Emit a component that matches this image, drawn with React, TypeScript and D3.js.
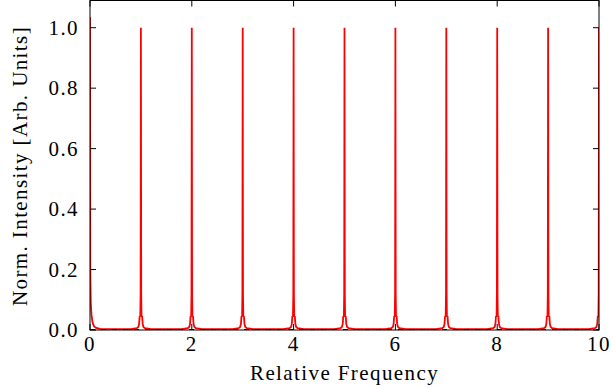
import React from "react";
import * as d3 from "d3";

const peakPositions = [0, 1, 2, 3, 4, 5, 6, 7, 8, 9, 10];
const peakHeights = [1.035, 1.0, 1.0, 1.0, 1.0, 1.0, 1.0, 1.0, 1.0, 1.0, 1.0];
// shape of each peak's foot (offset from peak centre, intensity)
const footOffsets = [-0.2, -0.08, -0.05, -0.035, -0.025, -0.012, -0.006, 0.006, 0.012, 0.025, 0.035, 0.05, 0.08, 0.2];
const footValues = [0.003, 0.006, 0.01, 0.02, 0.044, 0.046, 0.12, 0.12, 0.046, 0.044, 0.02, 0.01, 0.006, 0.003];
// foot of the peak at zero (right side only)
const zeroFootOffsets = [0.006, 0.015, 0.03, 0.05, 0.08, 0.12, 0.2];
const zeroFootValues = [0.2, 0.09, 0.05, 0.025, 0.012, 0.007, 0.004];
const baselineLevel = 0.002;

const xTicks = [0, 2, 4, 6, 8, 10];
const yTicks = [0, 0.2, 0.4, 0.6, 0.8, 1.0];

const W = 613, H = 388;
const M = { left: 90, right: 14, top: 0.5, bottom: 58 };

export default function App() {
  const x = d3.scaleLinear().domain([0, 10]).range([M.left, W - M.right]);
  const y = d3.scaleLinear().domain([0, 1.09]).range([H - M.bottom, M.top]);

  const pts: [number, number][] = [];
  peakPositions.forEach((p, i) => {
    if (p === 0) {
      pts.push([p, peakHeights[i]]);
      zeroFootOffsets.forEach((o, j) => pts.push([p + o, zeroFootValues[j]]));
    } else {
      footOffsets.forEach((o, j) => {
        if (o < 0) pts.push([p + o, footValues[j]]);
      });
      pts.push([p, peakHeights[i]]);
      footOffsets.forEach((o, j) => {
        if (o > 0 && p + o <= 10) pts.push([p + o, footValues[j]]);
      });
    }
  });
  pts.sort((a, b) => a[0] - b[0]);
  const line = d3.line<[number, number]>().x((d) => x(d[0])).y((d) => y(Math.max(d[1], baselineLevel)));

  const x0 = x(0), x1 = x(10), y0 = y(0), y1 = M.top;
  const tl = 6;
  const font = "'Liberation Serif', 'DejaVu Serif', serif";
  const fs = 21;
  const ls = 1.4;

  return (
    <svg width={W} height={H} style={{ position: "absolute", left: 0, top: 0, background: "#fff" }}>
      <defs>
        <clipPath id="plot">
          <rect x={x0} y={y1} width={x1 - x0} height={y0 - y1} />
        </clipPath>
      </defs>
      <g clipPath="url(#plot)">
        <path d={line(pts) || ""} fill="none" stroke="#ff0000" strokeWidth={1.8} />
        <line x1={x0} x2={x1} y1={y0 - 0.5} y2={y0 - 0.5} stroke="#000" strokeWidth={1} strokeDasharray="5,6" />
      </g>
      <rect x={x0} y={y1} width={x1 - x0} height={y0 - y1} fill="none" stroke="#000" strokeWidth={1} />
      {xTicks.map((t) => (
        <g key={"x" + t}>
          <line x1={x(t)} x2={x(t)} y1={y0} y2={y0 - tl} stroke="#000" />
          <line x1={x(t)} x2={x(t)} y1={y1} y2={y1 + tl} stroke="#000" />
          <text x={x(t)} y={351} textAnchor="middle" fontFamily={font} fontSize={fs} letterSpacing={ls} fill="#000">
            {t}
          </text>
        </g>
      ))}
      {yTicks.map((t) => (
        <g key={"y" + t}>
          <line x1={x0} x2={x0 + tl} y1={y(t)} y2={y(t)} stroke="#000" />
          <line x1={x1} x2={x1 - tl} y1={y(t)} y2={y(t)} stroke="#000" />
          <text x={79} y={y(t) + 7} textAnchor="end" fontFamily={font} fontSize={fs} letterSpacing={ls} fill="#000">
            {t.toFixed(1)}
          </text>
        </g>
      ))}
      <text x={(x0 + x1) / 2} y={380} textAnchor="middle" fontFamily={font} fontSize={fs} letterSpacing={ls} fill="#000">
        Relative Frequency
      </text>
      <text transform={`translate(27,${166}) rotate(-90)`} textAnchor="middle" fontFamily={font} fontSize={fs} letterSpacing={ls} fill="#000">
        Norm. Intensity [Arb. Units]
      </text>
    </svg>
  );
}
